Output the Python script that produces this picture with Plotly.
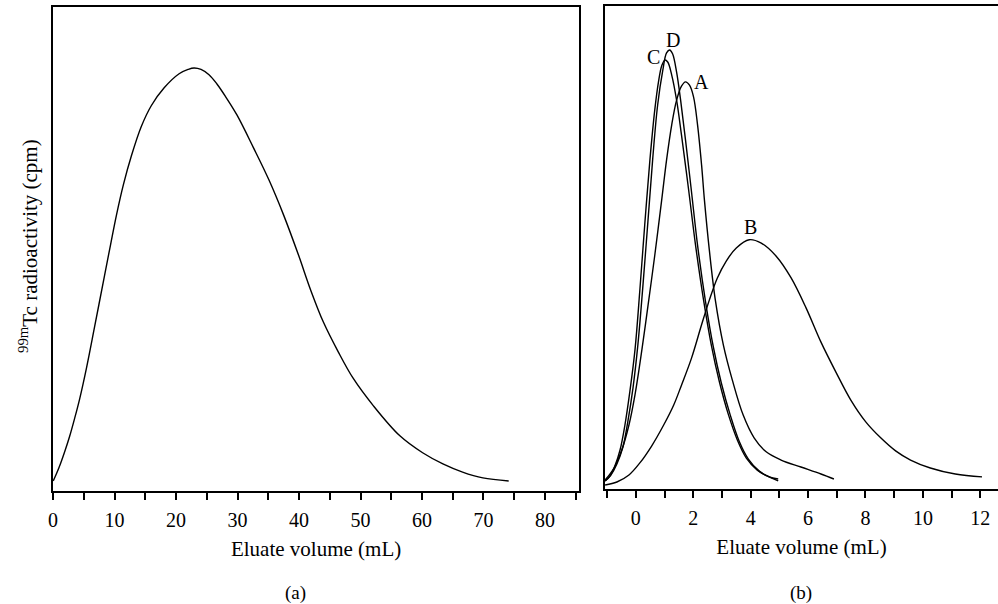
import plotly.graph_objects as go

# ---------------- data ----------------
# Panel (a): single elution profile (arbitrary cpm units, 0-100 scale)
a_x = [0.03, 0.6, 1.25, 1.89, 2.7, 3.51, 4.32, 5.45, 6.75, 8.37, 9.34, 10.31, 11.44, 12.73,
       14.35, 15.97, 18.07, 20.5, 21.96, 22.93, 24.06, 25.36, 26.65, 28.1, 29.9, 32.6, 35.1,
       37.5, 39.9, 41.9, 43.96, 46.4, 48.8, 52.1, 56.4, 60.1, 63.4, 66.6, 69.9, 74.1]
a_y = [2.07, 3.7, 5.8, 8.1, 11.3, 15.0, 19.0, 25.5, 33.9, 44.5, 50.8, 57.0, 63.3, 69.2,
       75.3, 79.6, 83.3, 86.2, 87.1, 87.4, 87.1, 86.0, 84.1, 81.4, 77.7, 70.9, 64.3,
       57.0, 48.8, 41.5, 34.9, 28.7, 23.3, 17.6, 11.4, 7.9, 5.6, 3.9, 2.7, 2.07]

# Panel (b): four elution profiles A-D
A_x = [-1.07, -0.76, -0.49, -0.24, -0.03, 0.21, 0.45, 0.66, 0.90, 1.07, 1.25, 1.42, 1.59,
       1.73, 1.87, 2.01, 2.15, 2.29, 2.39, 2.56, 2.77, 3.05, 3.36, 3.74, 4.12, 4.54, 5.06,
       5.75, 6.45, 6.90]
A_y = [1.86, 4.35, 8.07, 13.25, 19.5, 28.8, 39.1, 48.4, 59.8, 68.1, 75.4, 80.5, 83.4,
       84.3, 83.6, 81.2, 75.4, 67.1, 59.8, 49.5, 39.1, 29.8, 22.6, 15.3, 10.6, 7.7, 6.0,
       4.55, 3.1, 2.07]

B_x = [-1.07, -0.66, -0.24, 0.14, 0.55, 0.97, 1.32, 1.59, 1.94, 2.29, 2.56, 2.84, 3.15,
       3.50, 3.95, 4.37, 4.89, 5.41, 5.93, 6.45, 6.97, 7.49, 8.01, 8.53, 9.05, 9.57, 10.26,
       11.13, 12.06]
B_y = [0.83, 1.45, 2.9, 5.4, 8.9, 13.25, 17.4, 21.5, 27.1, 34.0, 39.1, 43.7, 47.2,
       49.9, 51.6, 50.9, 48.2, 43.7, 37.5, 30.4, 24.2, 18.4, 13.9, 10.6, 7.9, 6.0, 4.35,
       3.1, 2.5]

C_x = [-1.07, -0.90, -0.73, -0.55, -0.38, -0.21, -0.03, 0.14, 0.31, 0.49, 0.66, 0.80, 0.90,
       1.01, 1.11, 1.25, 1.42, 1.59, 1.84, 2.08, 2.36, 2.63, 2.91, 3.22, 3.54, 3.85, 4.23,
       4.58, 4.96]
C_y = [1.66, 2.69, 4.76, 8.07, 13.25, 20.1, 28.8, 41.2, 54.7, 68.1, 78.5, 84.7, 87.6,
       88.8, 88.4, 85.7, 80.5, 73.3, 61.9, 50.5, 39.1, 29.8, 22.2, 15.5, 10.1, 6.4, 3.9,
       2.7, 1.66]

D_x = [-1.07, -0.87, -0.66, -0.45, -0.28, -0.10, 0.07, 0.24, 0.42, 0.59, 0.76, 0.94, 1.07,
       1.18, 1.28, 1.42, 1.56, 1.73, 1.94, 2.15, 2.43, 2.70, 2.98, 3.29, 3.60, 3.92, 4.30,
       4.64, 4.96]
D_y = [1.66, 2.9, 5.2, 8.7, 13.9, 20.9, 29.8, 41.6, 55.3, 68.5, 79.5, 86.7, 90.3,
       90.9, 90.1, 86.3, 80.5, 72.3, 61.5, 50.5, 38.7, 29.4, 21.9, 15.3, 9.9, 6.2, 3.7,
       2.5, 2.07]

curve_labels = ["A", "B", "C", "D"]
label_x = [2.29, 3.99, 0.62, 1.28]
label_y = [84.3, 54.2, 89.4, 93.0]

panel_tags = ["(a)", "(b)"]
x_title = "Eluate volume (mL)"
y_title = "<sup>99m</sup>Tc radioactivity (cpm)"

# ---------------- figure ----------------
FONT = "Liberation Serif"
W, H = 998, 604
fig = go.Figure()
line = dict(color="black", width=1.4, shape="spline", smoothing=1.0)

fig.add_trace(go.Scatter(x=a_x, y=a_y, mode="lines", line=line, xaxis="x", yaxis="y",
                         showlegend=False, hoverinfo="skip"))
for xs, ys in [(A_x, A_y), (B_x, B_y), (C_x, C_y), (D_x, D_y)]:
    fig.add_trace(go.Scatter(x=xs, y=ys, mode="lines", line=line, xaxis="x2", yaxis="y2",
                             showlegend=False, hoverinfo="skip"))

def xaxis_style(dtick, minor_dtick):
    return dict(showgrid=False, zeroline=False, linecolor="black", linewidth=1.5,
                ticks="outside", ticklen=7, tickwidth=1.5, tickcolor="black",
                tick0=0, dtick=dtick, ticklabelstandoff=3,
                minor=dict(ticks="outside", ticklen=7, tickwidth=1.5, tickcolor="black",
                           dtick=minor_dtick, tick0=0, showgrid=False),
                tickfont=dict(family=FONT, size=20, color="black"),
                title=dict(text=x_title, font=dict(family=FONT, size=21, color="black"),
                           standoff=12))

fig.update_layout(
    width=W, height=H, margin=dict(l=0, r=0, t=0, b=0),
    paper_bgcolor="white", plot_bgcolor="white",
    xaxis=dict(domain=[48.3 / W, 577 / W], range=[0, 85.55], showline=True, mirror=True,
               anchor="y", **xaxis_style(10, 5)),
    yaxis=dict(domain=[1 - 491 / H, 1 - 7 / H], range=[0, 100], showline=True, mirror=True,
               showticklabels=False, ticks="", showgrid=False, zeroline=False,
               linecolor="black", linewidth=1.5, anchor="x"),
    xaxis2=dict(domain=[603 / W, 1.0], range=[-1.075, 12.617], showline=True, mirror=True,
                anchor="y2", **xaxis_style(2, 1)),
    yaxis2=dict(domain=[1 - 489 / H, 1 - 6 / H], range=[0, 100], showline=True, mirror=False,
                showticklabels=False, ticks="", showgrid=False, zeroline=False,
                linecolor="black", linewidth=1.5, anchor="x2"),
)

anns = []
for t, lx, ly in zip(curve_labels, label_x, label_y):
    anns.append(dict(text=t, x=lx, y=ly, xref="x2", yref="y2", showarrow=False,
                     xanchor="center", yanchor="middle",
                     font=dict(family=FONT, size=20, color="black")))
for t, px in zip(panel_tags, [292, 800]):
    anns.append(dict(text=t, x=px / W, y=1 - 593 / H, xref="paper", yref="paper",
                     showarrow=False, xanchor="center", yanchor="middle",
                     font=dict(family=FONT, size=19, color="black")))
anns.append(dict(text=y_title, x=24 / W, y=1 - 246 / H, xref="paper", yref="paper",
                 showarrow=False, textangle=-90, xanchor="center", yanchor="middle",
                 font=dict(family=FONT, size=21, color="black")))
fig.update_layout(annotations=anns)

fig.write_html("out.html")
